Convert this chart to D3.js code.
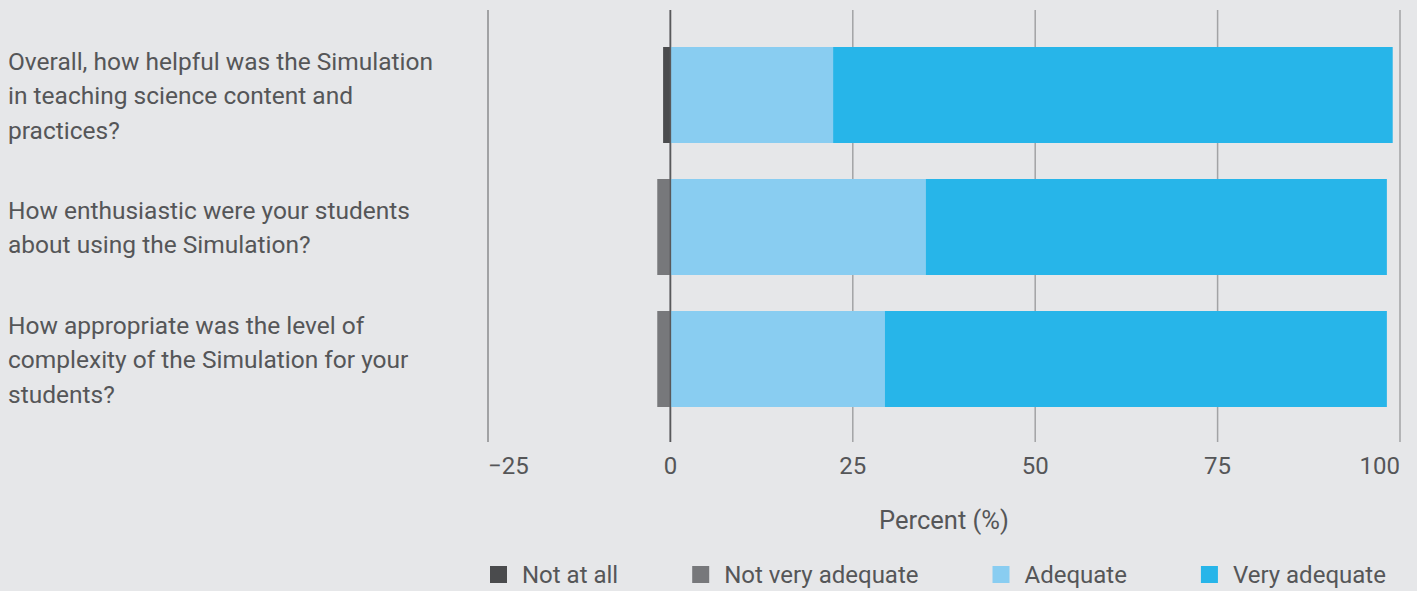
<!DOCTYPE html>
<html>
<head>
<meta charset="utf-8">
<script src="https://cdn.jsdelivr.net/npm/d3@7"></script>
<style>
  html, body { margin: 0; padding: 0; background: #e6e7e9; }
  svg { display: block; font-family: Roboto, "Noto Sans", sans-serif; }
</style>
</head>
<body>
<svg id="chart" width="1417" height="591"></svg>
<script>
const questions = [
  ["Overall, how helpful was the Simulation", "in teaching science content and", "practices?"],
  ["How enthusiastic were your students", "about using the Simulation?"],
  ["How appropriate was the level of", "complexity of the Simulation for your", "students?"]
];
const seriesNames = ["Not at all", "Not very adequate", "Adequate", "Very adequate"];
const seriesColors = ["#4a4b4d", "#77787b", "#89cdf1", "#27b5e9"];
const notAtAll        = [1.0, 0.0, 0.0];
const notVeryAdequate = [0.0, 1.8, 1.8];
const adequate        = [22.3, 35.0, 29.4];
const veryAdequate    = [76.7, 63.2, 68.8];
const tickValues = [-25, 0, 25, 50, 75, 100];
const axisTitle = "Percent (%)";

const svg = d3.select("#chart");
const textColor = "#555658";

const x = d3.scaleLinear().domain([-25, 100]).range([488, 1400]);
const y = d3.scaleBand().domain(d3.range(questions.length)).range([29, 425])
  .paddingInner(36 / 132).paddingOuter(18 / 132);

// gridlines
const grid = svg.append("g");
grid.selectAll("line").data(tickValues).join("line")
  .attr("x1", d => x(d)).attr("x2", d => x(d))
  .attr("y1", 10).attr("y2", 442)
  .attr("stroke", d => d === 0 ? "#58595b" : (d === -25 ? "#8a8b8d" : "#a2a3a5"))
  .attr("stroke-width", 1.5);

// bars
const negative = [notAtAll, notVeryAdequate];
const positive = [adequate, veryAdequate];
const barsG = svg.append("g");
questions.forEach((q, i) => {
  let neg = 0;
  negative.forEach((arr, s) => {
    const v = arr[i];
    if (v > 0) {
      barsG.append("rect")
        .attr("x", x(-(neg + v))).attr("width", x(-neg) - x(-(neg + v)))
        .attr("y", y(i)).attr("height", y.bandwidth())
        .attr("fill", seriesColors[s]);
    }
    neg += v;
  });
  let pos = 0;
  positive.forEach((arr, s) => {
    const v = arr[i];
    barsG.append("rect")
      .attr("x", x(pos)).attr("width", x(pos + v) - x(pos))
      .attr("y", y(i)).attr("height", y.bandwidth())
      .attr("fill", seriesColors[s + 2]);
    pos += v;
  });
});

// zero line on top of bars
svg.append("line")
  .attr("x1", x(0)).attr("x2", x(0)).attr("y1", 10).attr("y2", 442)
  .attr("stroke", "#58595b").attr("stroke-width", 1.5);

// category labels
const lineH = 34.5;
const catG = svg.append("g");
questions.forEach((lines, i) => {
  const cy = y(i) + y.bandwidth() / 2;
  const t = catG.append("text")
    .attr("x", 8)
    .attr("fill", textColor)
    .attr("font-size", 24.5);
  lines.forEach((ln, k) => {
    t.append("tspan")
      .attr("x", 8)
      .attr("y", cy + 9 + (k - (lines.length - 1) / 2) * lineH)
      .text(ln);
  });
});

// x axis tick labels
const fmt = d => d < 0 ? "\u2212" + Math.abs(d) : String(d);
svg.append("g").selectAll("text").data(tickValues).join("text")
  .attr("x", d => x(d))
  .attr("y", 474)
  .attr("text-anchor", (d, i) => i === 0 ? "start" : (i === tickValues.length - 1 ? "end" : "middle"))
  .attr("fill", textColor)
  .attr("font-size", 24)
  .text(fmt);

// axis title
svg.append("text")
  .attr("x", (x.range()[0] + x.range()[1]) / 2)
  .attr("y", 529)
  .attr("text-anchor", "middle")
  .attr("fill", textColor)
  .attr("font-size", 25.5)
  .text(axisTitle);

// legend
const legend = svg.append("g");
let lx = 490;
seriesNames.forEach((name, s) => {
  legend.append("rect")
    .attr("x", lx).attr("y", 566).attr("width", 17).attr("height", 17)
    .attr("fill", seriesColors[s]);
  const t = legend.append("text")
    .attr("x", lx + 32).attr("y", 583)
    .attr("fill", textColor)
    .attr("font-size", 24)
    .text(name);
  const w = t.node().getComputedTextLength();
  lx = lx + 32 + w + 74;
});
</script>
</body>
</html>
